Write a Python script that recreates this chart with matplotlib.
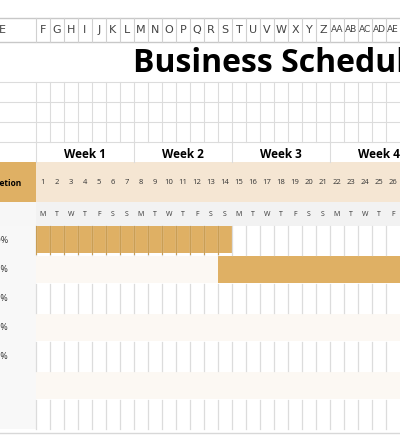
import matplotlib
matplotlib.use("Agg")
import matplotlib.pyplot as plt
from matplotlib.patches import Rectangle

col_letters = ["F", "G", "H", "I", "J", "K", "L", "M", "N", "O", "P", "Q", "R",
               "S", "T", "U", "V", "W", "X", "Y", "Z", "AA", "AB", "AC", "AD", "AE"]
days = list(range(1, 27))
day_letters = ["M", "T", "W", "T", "F", "S", "S"] * 4
weeks = ["Week 1", "Week 2", "Week 3", "Week 4"]
percents = ["100%", "50%", "25%", "25%", "25%", "", ""]
task_start = [1, 14]      # first day of each bar
task_days = [14, 14]      # length in days

TAN = "#dfb064"
LIGHT_TAN = "#f5e6d3"
CREAM = "#fcf8f3"
GRID = "#dcdcdc"

W, H = 400, 446
x0, cw = 36, 14
fig = plt.figure(figsize=(W / 100, H / 100), dpi=100)
ax = fig.add_axes([0, 0, 1, 1])
ax.set_xlim(0, W)
ax.set_ylim(H, 0)
ax.axis("off")


def rect(x, y, w, h, fc, ec="none", lw=0):
    ax.add_patch(Rectangle((x, y), w, h, facecolor=fc, edgecolor=ec, linewidth=lw))


def cx(i):
    return x0 + i * cw


ncol = len(col_letters)

# column letter header
ax.plot([0, W], [18, 18], color="#c8c8c8", lw=1)
ax.plot([0, W], [42, 42], color="#c8c8c8", lw=1)
ax.text(-1, 30, "E", ha="left", va="center", fontsize=8, color="#444")
for i, s in enumerate(col_letters):
    ax.plot([cx(i), cx(i)], [18, 42], color="#d0d0d0", lw=0.8)
    ax.text(cx(i) + cw / 2, 30, s, ha="center", va="center",
            fontsize=8 if len(s) == 1 else 6.5, color="#444")

# title
ax.text(133, 63, "Business Schedule Gantt Chart", ha="left", va="center",
        fontsize=23, fontweight="bold", family="Open Sans")
ax.plot([0, W], [82, 82], color=GRID, lw=0.8)

# blank grid rows
for y in [102, 122, 142]:
    ax.plot([0, W], [y, y], color=GRID, lw=0.8)
for i in range(ncol):
    ax.plot([cx(i), cx(i)], [82, 142], color=GRID, lw=0.8)

# week row
for k, wk in enumerate(weeks):
    ax.plot([cx(7 * k), cx(7 * k)], [142, 162], color=GRID, lw=0.8)
    ax.text(cx(7 * k) + 3.5 * cw, 155, wk, ha="center", va="center",
            fontsize=8.5, fontweight="bold", family="Open Sans")

# day numbers row
rect(0, 162, x0, 40, TAN)
ax.text(22, 183, "Completion", ha="right", va="center", fontsize=6,
        fontweight="bold", family="Open Sans")
rect(x0, 162, W - x0, 40, LIGHT_TAN)
for i, d in enumerate(days):
    ax.text(cx(i) + cw / 2, 183, str(d), ha="center", va="center", fontsize=5.5,
            family="Open Sans", color="#333")

# day letter row
rect(0, 202, x0, 24, "#f7f7f7")
rect(x0, 202, W - x0, 24, "#f2f2f2")
for i, d in enumerate(day_letters):
    ax.text(cx(i) + cw / 2, 214, d, ha="center", va="center", fontsize=5,
            family="Open Sans", color="#333")

# task rows
row_h = 29
y_rows = 226
for r, p in enumerate(percents):
    y = y_rows + r * row_h
    rect(0, y, x0, row_h, "#f8f8f8")
    if r % 2 == 1:
        rect(x0, y + 1, W - x0, row_h - 2, CREAM)
    else:
        for i in range(ncol):
            ax.plot([cx(i), cx(i)], [y, y + row_h], color=GRID, lw=0.9)
    if p:
        ax.text(8, y + row_h / 2, p, ha="right", va="center", fontsize=6.5,
                family="Open Sans", color="#333")

for r, (s, n) in enumerate(zip(task_start, task_days)):
    y = y_rows + r * row_h
    rect(cx(s - 1), y + 1 if r else y, n * cw, row_h - 2, TAN)
    if r % 2 == 0:
        for i in range(s - 1, s - 1 + n):
            ax.plot([cx(i), cx(i)], [y, y + row_h - 1], color="#c99e55", lw=0.8)

ax.plot([0, W], [433, 433], color="#d8d8d8", lw=1)

fig.savefig("out.png", dpi=100)
